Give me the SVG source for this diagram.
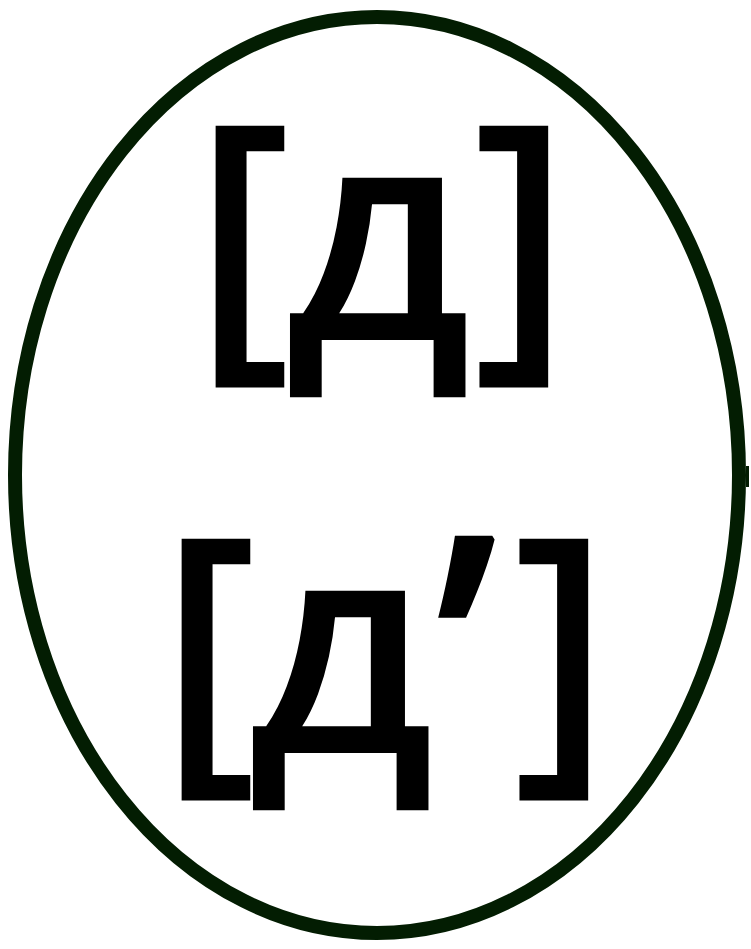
<svg xmlns="http://www.w3.org/2000/svg" width="751" height="949" viewBox="0 0 751 949">
<style>
.lbl{font-family:"Open Sans","Noto Sans","DejaVu Sans",sans-serif;font-size:300px;font-weight:600;fill:#000;text-anchor:start}
</style>
<rect width="751" height="949" fill="#fff"/>
<g id="node1">
<ellipse cx="377" cy="475" rx="362" ry="458" fill="#fff" stroke="#031d02" stroke-width="14"/>
<rect x="746" y="466" width="3" height="21" fill="#031d02"/>
<text class="lbl" x="193 285 472" y="340">[д]</text>
<text class="lbl" x="159 248" y="753">[д</text>
<text class="lbl" x="434" y="775" style="font-size:335px">’</text>
<text class="lbl" x="512" y="753">]</text>
</g>
<g id="connectors"/>
</svg>
